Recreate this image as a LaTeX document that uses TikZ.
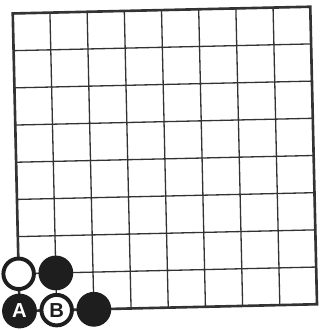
\documentclass[tikz,border=0pt]{standalone}
\usepackage{fontspec}
\setsansfont{Liberation Sans}
\definecolor{board-line}{HTML}{333333}
\definecolor{stone-black}{HTML}{1E1E1E}

\begin{document}
\begin{tikzpicture}[
        every node/.style={font=\sffamily\bfseries\fontsize{15.5}{15.5}\selectfont},
        blackstone/.style={circle, draw=stone-black, fill=stone-black, line width=1pt,
            minimum size=0.90cm, inner sep=0pt, text=white},
        whitestone/.style={circle, draw=stone-black, fill=white, line width=3pt,
            minimum size=0.82cm, inner sep=0pt, text=stone-black}]
      \useasboundingbox (-0.524,-0.511) rectangle (8.078,8.360);
      \begin{scope}[rotate=1.3]
        % board
        \draw[board-line, line width=1pt] (0,0) grid (8,8);
        \draw[board-line, line width=2pt] (0,0) rectangle (8,8);
        % stones in the corner
        \node[whitestone] (W1) at (0,1) {};
        \node[blackstone] (B1) at (1,1) {};
        \node[blackstone] (A) at (0,0) {A};
        \node[whitestone] (B) at (1,0) {B};
        \node[blackstone] (B2) at (2,0) {};
      \end{scope}
    \end{tikzpicture}
\end{document}
